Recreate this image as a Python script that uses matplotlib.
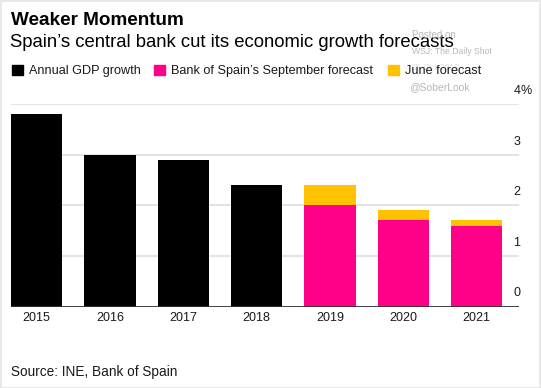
import matplotlib
matplotlib.use('Agg')
import matplotlib.pyplot as plt
import matplotlib.transforms as mtransforms
from matplotlib.patches import Rectangle

plt.rcParams['font.family'] = ['Liberation Sans', 'DejaVu Sans']

# ------------------------------------------------------------------
# Data
# ------------------------------------------------------------------
years = ['2015', '2016', '2017', '2018', '2019', '2020', '2021']
gdp_actual = [3.8, 3.0, 2.9, 2.4, 0, 0, 0]
sept_forecast = [0, 0, 0, 0, 2.0, 1.7, 1.6]
june_forecast = [0, 0, 0, 0, 2.4, 1.9, 1.7]
y_ticks = [0, 1, 2, 3, 4]

BLACK = '#000000'
MAGENTA = '#ff0088'
YELLOW = '#ffc200'
GRID = '#dcdcdc'
TXT = '#1a1a1a'

W, H = 541, 388
fig = plt.figure(figsize=(W / 100, H / 100), dpi=100)


def fx(px):
    return px / W


def fy(py):
    return 1 - py / H


ax = fig.add_axes([fx(11), fy(306.5), fx(519.3 - 11), (306.5 - 104) / H])

x = list(range(len(years)))
june_extra = [j - s for j, s in zip(june_forecast, sept_forecast)]
ax.bar(x, gdp_actual, width=0.7, color=BLACK, zorder=3)
ax.bar(x, sept_forecast, width=0.7, color=MAGENTA, zorder=3)
ax.bar(x, june_extra, bottom=sept_forecast, width=0.7, color=YELLOW, zorder=3)

ax.set_xlim(-0.35, 6.58)
ax.set_ylim(0, 4)
for v in y_ticks[1:]:
    ax.axhline(v, color=GRID, lw=1.1, zorder=1)
ax.axhline(0, color='#333333', lw=1.3, zorder=4)

for s in ax.spines.values():
    s.set_visible(False)
ax.set_yticks([])
ax.set_xticks(x)
ax.set_xticklabels(years, fontsize=9, color=TXT)
ax.tick_params(axis='x', length=0, pad=4)

# right-hand value labels sitting above their gridlines
lab_tf = mtransforms.offset_copy(ax.get_yaxis_transform(), fig=fig, x=1.2, y=13, units='dots')
for v in y_ticks:
    ax.text(1.0, v, str(v), transform=lab_tf, ha='right', va='center', fontsize=9, color=TXT)
ax.text(1.0, y_ticks[-1], '%', transform=lab_tf, ha='left', va='center', fontsize=9, color=TXT)

# titles
fig.text(fx(11), fy(25), 'Weaker Momentum', fontsize=13.6, fontweight='bold', color='#000000', va='baseline')
fig.text(fx(10), fy(47), 'Spain\u2019s central bank cut its economic growth forecasts',
         fontsize=13.3, color='#000000', va='baseline')

# legend
legend_items = [('Annual GDP growth', BLACK, 12), ('Bank of Spain\u2019s September forecast', MAGENTA, 154),
                ('June forecast', YELLOW, 388)]
for label, col, px in legend_items:
    fig.patches.append(Rectangle((fx(px), fy(75)), fx(10.5), 10.5 / H, transform=fig.transFigure,
                                 color=col, figure=fig))
    fig.text(fx(px + 17), fy(74), label, fontsize=9.1, color=TXT, va='baseline')

# watermark
wm = '#b8b8b8'
fig.text(fx(412), fy(37.5), 'Posted on', fontsize=7, color=wm, va='baseline')
fig.text(fx(412), fy(54), 'WSJ: The Daily Shot', fontsize=6.2, color=wm, va='baseline')
fig.text(fx(412), fy(70.5), '05-Oct-2019', fontsize=6.2, color='#e0e0e0', va='baseline', zorder=0)
fig.text(fx(409), fy(90), '@SoberLook', fontsize=7.5, color=wm, va='baseline')

fig.text(fx(11), fy(376), 'Source: INE, Bank of Spain', fontsize=9.8, color=TXT, va='baseline')

# light frame around the whole picture
fig.patches.append(Rectangle((0.5 / W, 0.5 / H), 1 - 1.5 / W, 1 - 1.5 / H, transform=fig.transFigure,
                             fill=False, edgecolor='#e4e4e4', lw=1.2, figure=fig))

fig.savefig('out.png', dpi=100)
